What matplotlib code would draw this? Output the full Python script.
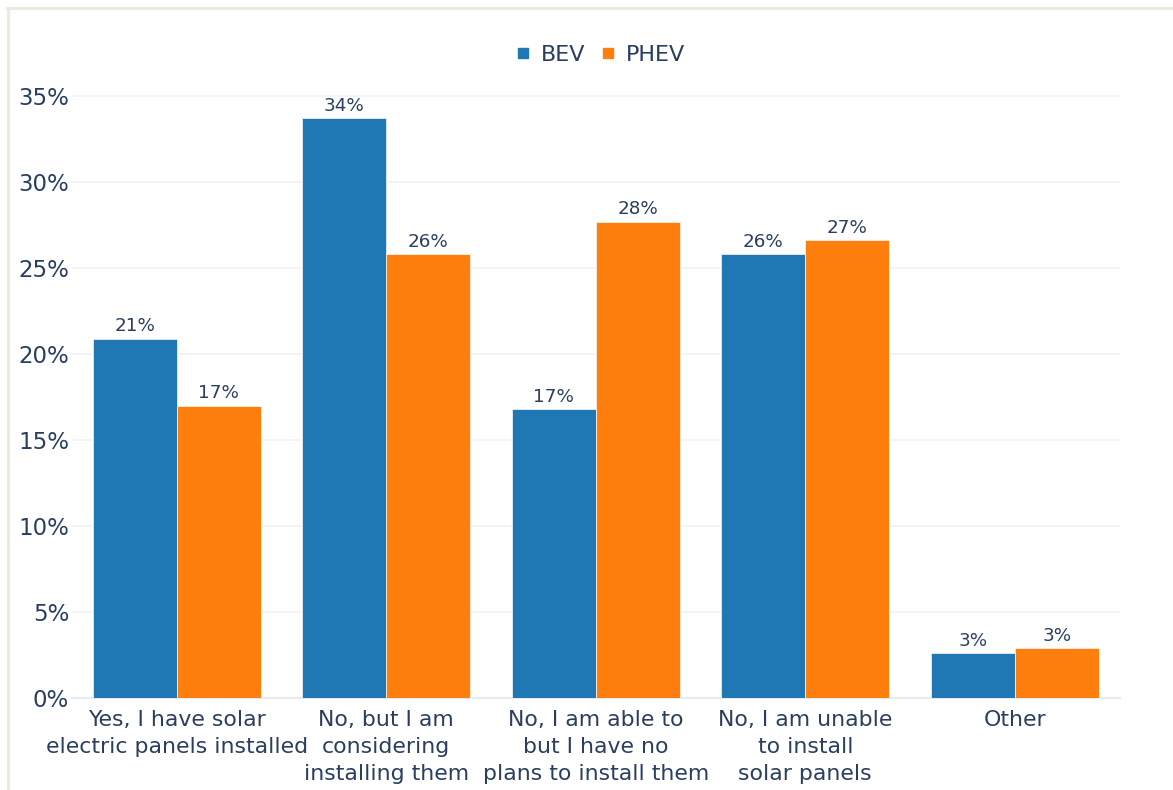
import matplotlib
matplotlib.use("Agg")
import matplotlib.pyplot as plt
from matplotlib.lines import Line2D
import numpy as np

categories = [
    "Yes, I have solar\nelectric panels installed",
    "No, but I am\nconsidering\ninstalling them",
    "No, I am able to\nbut I have no\nplans to install them",
    "No, I am unable\nto install\nsolar panels",
    "Other",
]
bev = [20.9, 33.7, 16.8, 25.8, 2.6]
phev = [17.0, 25.8, 27.7, 26.6, 2.9]
series_names = ["BEV", "PHEV"]
y_ticks = [0, 5, 10, 15, 20, 25, 30, 35]

TEXT = "#2a3f5f"
BLUE = "#1f77b4"
ORANGE = "#ff7f0e"

plt.rcParams["font.family"] = ["DejaVu Sans"]

W, H = 1173, 790
fig = plt.figure(figsize=(W / 100, H / 100), dpi=100)
fig.patch.set_facecolor("white")

ymax = 35.4
px_per_unit = (698 - 96) / 35.0
ax_h = ymax * px_per_unit
ax = fig.add_axes([72 / W, (H - 698) / H, (1119.5 - 72) / W, ax_h / H])

x = np.arange(len(categories))
bw = 0.4
b1 = ax.bar(x - bw / 2, bev, width=bw, color=BLUE, edgecolor="#e8eef6",
            linewidth=0.6, zorder=3, label=series_names[0])
b2 = ax.bar(x + bw / 2, phev, width=bw, color=ORANGE, edgecolor="#fbeee0",
            linewidth=0.6, zorder=3, label=series_names[1])

for bars, vals in ((b1, bev), (b2, phev)):
    for rect, v in zip(bars, vals):
        ax.annotate(f"{int(v + 0.5):d}%", (rect.get_x() + rect.get_width() / 2, v),
                    xytext=(0, 2.5), textcoords="offset points",
                    ha="center", va="bottom", fontsize=13.2, color=TEXT)

ax.set_xlim(-0.5, len(categories) - 0.5)
ax.set_ylim(0, ymax)
ax.set_yticks(y_ticks)
ax.set_yticklabels([f"{t}%" for t in y_ticks])
ax.set_xticks(x)
ax.set_xticklabels(categories, linespacing=1.42)

ax.tick_params(axis="y", length=0, pad=2, labelsize=16.5, labelcolor=TEXT)
ax.tick_params(axis="x", length=0, pad=9, labelsize=15.8, labelcolor=TEXT)

ax.grid(axis="y", color="#f0f3f7", linewidth=1.2, zorder=0)
ax.set_axisbelow(True)
for side in ("top", "right", "left"):
    ax.spines[side].set_visible(False)
ax.spines["bottom"].set_color("#e6ebf3")
ax.spines["bottom"].set_linewidth(1.5)
ax.spines["bottom"].set_zorder(2)

handles = [
    Line2D([], [], marker="s", linestyle="none", markersize=7,
           markerfacecolor=BLUE, markeredgecolor=BLUE, label=series_names[0]),
    Line2D([], [], marker="s", linestyle="none", markersize=7,
           markerfacecolor=ORANGE, markeredgecolor=ORANGE, label=series_names[1]),
]
fig.legend(handles=handles, loc="center", bbox_to_anchor=(600 / W, 1 - 55 / H),
           ncol=2, frameon=False, fontsize=16, labelcolor=TEXT,
           handlelength=0.7, handletextpad=0.45, columnspacing=0.65)

# thin frame along the top and left edges
fig.add_artist(Line2D([7 / W, 1], [1 - 8 / H, 1 - 8 / H], color="#ebe8dc",
                      linewidth=2, transform=fig.transFigure))
fig.add_artist(Line2D([8 / W, 8 / W], [0, 1 - 8 / H], color="#ebe8dc",
                      linewidth=2, transform=fig.transFigure))

fig.savefig("out.png", dpi=100, facecolor="white")
